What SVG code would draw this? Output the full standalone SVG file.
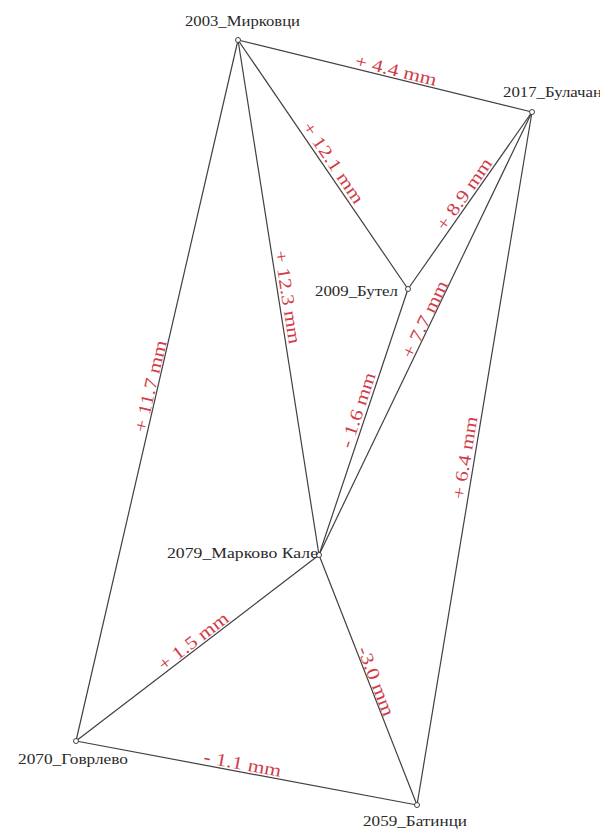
<svg xmlns="http://www.w3.org/2000/svg" width="600" height="829" viewBox="0 0 600 829">
<style>
.e{stroke:#404040;stroke-width:1.2;fill:none}
.n{fill:#fff;stroke:#404040;stroke-width:1}
.t{font-family:"Liberation Serif","Times New Roman",serif;font-size:14px;fill:#2a2a2a}
.l{font-family:"Liberation Serif","Times New Roman",serif;font-size:18px;fill:#d23b48;text-anchor:middle}
</style>
<rect width="600" height="829" fill="#fff"/>
<g id="connectors">
<line class="e" x1="238" y1="40" x2="532" y2="112"/>
<line class="e" x1="238" y1="40" x2="408" y2="289"/>
<line class="e" x1="238" y1="40" x2="319" y2="555"/>
<line class="e" x1="238" y1="40" x2="76" y2="741"/>
<line class="e" x1="532" y1="112" x2="408" y2="289"/>
<line class="e" x1="532" y1="112" x2="319" y2="555"/>
<line class="e" x1="532" y1="112" x2="417" y2="805"/>
<line class="e" x1="408" y1="289" x2="319" y2="555"/>
<line class="e" x1="319" y1="555" x2="76" y2="741"/>
<line class="e" x1="319" y1="555" x2="417" y2="805"/>
<line class="e" x1="76" y1="741" x2="417" y2="805"/>
<text class="l" transform="translate(396,70) rotate(13.8) scale(1.2,1)" dy="0.35em">+ 4.4 mm</text>
<text class="l" transform="translate(333.5,162.5) rotate(55.7) scale(1.2,1)" dy="0.35em">+ 12.1 mm</text>
<text class="l" transform="translate(288,297) rotate(81) scale(1.2,1)" dy="0.35em">+ 12.3 mm</text>
<text class="l" transform="translate(150,386) rotate(-77) scale(1.2,1)" dy="0.35em">+ 11.7 mm</text>
<text class="l" transform="translate(463.8,193.9) rotate(-55) scale(1.2,1)" dy="0.35em">+ 8.9 mm</text>
<text class="l" transform="translate(424.5,319) rotate(-64.3) scale(1.2,1)" dy="0.35em">+ 7.7 mm</text>
<text class="l" transform="translate(357.5,410) rotate(-71.5) scale(1.2,1)" dy="0.35em">- 1.6 mm</text>
<text class="l" transform="translate(464.5,457.5) rotate(-80.6) scale(1.2,1)" dy="0.35em">+ 6.4 mm</text>
<text class="l" transform="translate(193,641) rotate(-37.4) scale(1.2,1)" dy="0.35em">+ 1.5 mm</text>
<text class="l" transform="translate(376.5,681) rotate(68.6) scale(1.2,1)" dy="0.35em">-3.0 mm</text>
<text class="l" transform="translate(242.5,763.5) rotate(10.6) scale(1.2,1)" dy="0.35em">- 1.1 mm</text>
</g>
<g id="n2003"><circle class="n" cx="238" cy="40" r="2.5"/><text class="t" x="185" y="26" textLength="115" lengthAdjust="spacingAndGlyphs">2003_Мирковци</text></g>
<g id="n2017"><circle class="n" cx="532" cy="112" r="2.5"/><text class="t" x="503" y="97" textLength="108" lengthAdjust="spacingAndGlyphs">2017_Булачани</text></g>
<g id="n2009"><circle class="n" cx="408" cy="289" r="2.5"/><text class="t" x="315" y="296" textLength="83" lengthAdjust="spacingAndGlyphs">2009_Бутел</text></g>
<g id="n2079"><circle class="n" cx="319" cy="555" r="2.5"/><text class="t" x="167" y="558" textLength="151" lengthAdjust="spacingAndGlyphs">2079_Марково Кале</text></g>
<g id="n2070"><circle class="n" cx="76" cy="741" r="2.5"/><text class="t" x="18" y="764" textLength="110" lengthAdjust="spacingAndGlyphs">2070_Говрлево</text></g>
<g id="n2059"><circle class="n" cx="417" cy="805" r="2.5"/><text class="t" x="363" y="826" textLength="104" lengthAdjust="spacingAndGlyphs">2059_Батинци</text></g>
</svg>
